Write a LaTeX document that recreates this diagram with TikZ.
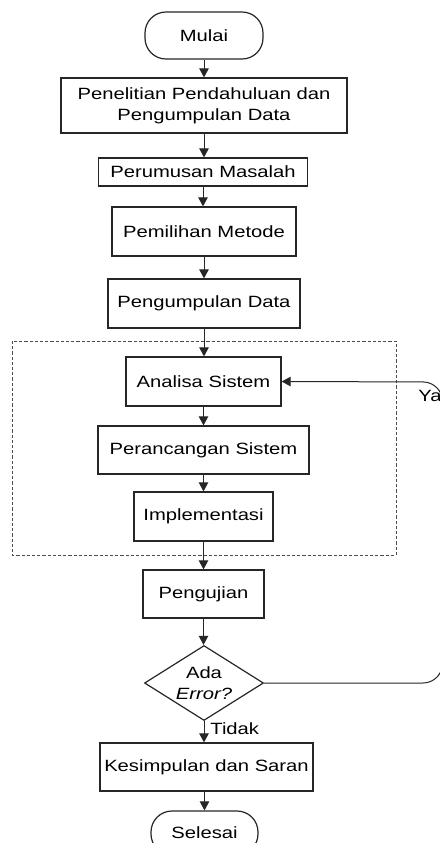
\documentclass[tikz,border=0pt]{standalone}
\usepackage{fontspec}
\setmainfont[FakeStretch=1.24]{Liberation Sans}
\usetikzlibrary{arrows.meta,shapes.geometric}
\begin{document}
\begin{tikzpicture}[x=0.5pt,y=-0.5pt,
  every node/.style={font=\fontsize{8.15}{10.5}\selectfont, align=center, inner sep=0pt, text=black},
  stepbox/.style={draw=black!85, line width=0.6pt, rectangle, fill=white},
  terminal/.style={draw=black!85, line width=0.6pt, rectangle, rounded corners=10.5pt, fill=white},
  decision/.style={draw=black!85, line width=0.6pt, diamond, aspect=1.587, inner sep=-1pt, fill=white},
  flow/.style={draw=black!85, line width=0.5pt, -{Triangle[width=4.7pt,length=4.5pt]}},
  groupframe/.style={draw=black!70, line width=0.5pt, dash pattern=on 1.6pt off 1pt}
]
\clip (0,0) rectangle (440,843);
\fill[white] (0,0) rectangle (440,843);

% process group frame
\draw[groupframe] (12,341) rectangle (396,555);

% flowchart nodes
\node[terminal, minimum width=59pt, minimum height=23.5pt] (start) at (204,35.5) {Mulai};
\node[stepbox, minimum width=143pt, minimum height=27.5pt] (s1) at (204,105.5) {Penelitian Pendahuluan dan\\Pengumpulan Data};
\node[stepbox, minimum width=104.5pt, minimum height=14pt] (s2) at (203,172) {Perumusan Masalah};
\node[stepbox, minimum width=92pt, minimum height=24.5pt] (s3) at (204,231.5) {Pemilihan Metode};
\node[stepbox, minimum width=96pt, minimum height=24.5pt] (s4) at (204,303.5) {Pengumpulan Data};
\node[stepbox, minimum width=77.5pt, minimum height=24.5pt] (s5) at (203.5,381.5) {Analisa Sistem};
\node[stepbox, minimum width=105.5pt, minimum height=24pt] (s6) at (203.5,450) {Perancangan Sistem};
\node[stepbox, minimum width=69.5pt, minimum height=24.5pt] (s7) at (203.5,516.5) {Implementasi};
\node[stepbox, minimum width=60.5pt, minimum height=24pt] (s8) at (203.5,594) {Pengujian};
\node[decision, minimum width=59.5pt, minimum height=37.5pt] (dec) at (204,683) {Ada\\\textit{Error?}};
\node[stepbox, minimum width=106.5pt, minimum height=24pt] (s9) at (206.5,767) {Kesimpulan dan Saran};
\node[terminal, minimum width=53.5pt, minimum height=22pt] (stop) at (204.5,833) {Selesai};

% main flow
\draw[flow] (start.south) -- (start.south |- s1.north);
\draw[flow] (s1.south) -- (s1.south |- s2.north);
\draw[flow] (s2.south) -- (s2.south |- s3.north);
\draw[flow] (s3.south) -- (s3.south |- s4.north);
\draw[flow] (s4.south) -- (s4.south |- s5.north);
\draw[flow] (s5.south) -- (s5.south |- s6.north);
\draw[flow] (s6.south) -- (s6.south |- s7.north);
\draw[flow] (s7.south) -- (s7.south |- s8.north);
\draw[flow] (s8.south) -- (s8.south |- dec.north);
\draw[flow] (dec.south) -- (dec.south |- s9.north);
\draw[flow] (s9.south -| stop.north) -- (stop.north);

% feedback loop when an error is found
\coordinate (loopB) at (442.5,683);
\coordinate (loopT) at (442.5,382);
\draw[flow, rounded corners=9.75pt] (dec.east) -- (loopB) -- (loopT) -- (s5.east);

% branch labels
\node[anchor=base west] (ya) at (418,401) {Ya};
\node[anchor=base west] (tidak) at (210,734) {Tidak};
\end{tikzpicture}
\end{document}
